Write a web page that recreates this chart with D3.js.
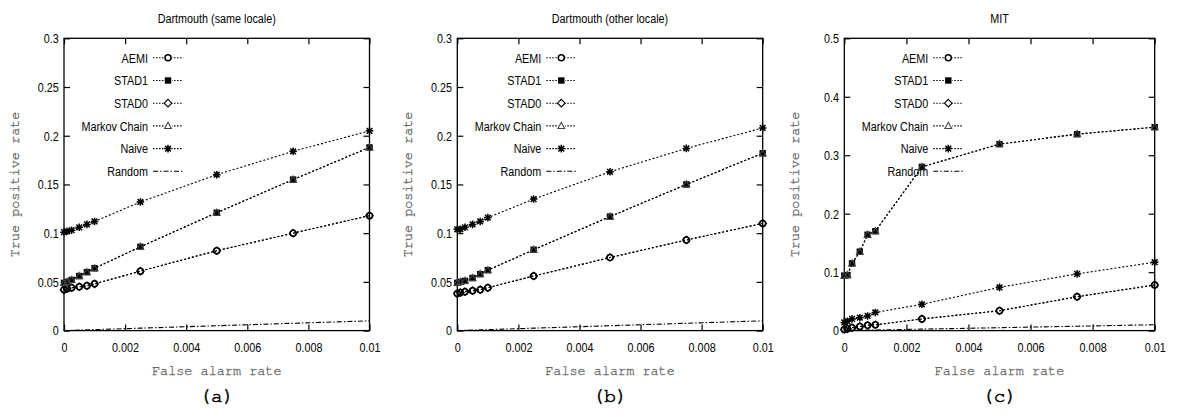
<!DOCTYPE html>
<html><head><meta charset="utf-8">
<script src="https://cdn.jsdelivr.net/npm/d3@7"></script>
<style>
html,body{margin:0;padding:0;background:#fff;}
svg{display:block;}
.nar{font-family:"Liberation Sans",Arial,sans-serif;}
.mono{font-family:"Nimbus Mono PS","FreeMono","Courier New","Liberation Mono",monospace;}
</style></head>
<body>
<svg id="chart" width="1178" height="414"></svg>
<script>
// ---- data ----
const xVals = [0, 0.0001, 0.00025, 0.0005, 0.00075, 0.001, 0.0025, 0.005, 0.0075, 0.01];
const seriesNames = ["AEMI", "STAD1", "STAD0", "Markov Chain", "Naive", "Random"];
const panelTitles = ["Dartmouth (same locale)", "Dartmouth (other locale)", "MIT"];
const panelLabels = ["(a)", "(b)", "(c)"];
const xTicks = [0, 0.002, 0.004, 0.006, 0.008, 0.01];
const xTickLabels = ["0", "0.002", "0.004", "0.006", "0.008", "0.01"];
const yTicksAB = [0, 0.05, 0.1, 0.15, 0.2, 0.25, 0.3];
const yTickLabelsAB = ["0", "0.05", "0.1", "0.15", "0.2", "0.25", "0.3"];
const yTicksC = [0, 0.1, 0.2, 0.3, 0.4, 0.5];
const yTickLabelsC = ["0", "0.1", "0.2", "0.3", "0.4", "0.5"];

// panel (a)
const aemiA   = [0.042, 0.043, 0.044, 0.045, 0.046, 0.048, 0.061, 0.082, 0.100, 0.118];
const stad1A  = [0.049, 0.050, 0.052, 0.056, 0.060, 0.064, 0.086, 0.121, 0.155, 0.188];
const stad0A  = [0.042, 0.043, 0.044, 0.045, 0.046, 0.048, 0.061, 0.082, 0.100, 0.118];
const markovA = [0.049, 0.050, 0.052, 0.056, 0.060, 0.064, 0.086, 0.121, 0.155, 0.188];
const naiveA  = [0.101, 0.102, 0.103, 0.106, 0.109, 0.112, 0.132, 0.160, 0.184, 0.205];
const randomA = [0, 0.0001, 0.00025, 0.0005, 0.00075, 0.001, 0.0025, 0.005, 0.0075, 0.01];
// panel (b)
const aemiB   = [0.038, 0.039, 0.040, 0.041, 0.042, 0.044, 0.056, 0.075, 0.093, 0.110];
const stad1B  = [0.049, 0.050, 0.051, 0.054, 0.058, 0.062, 0.083, 0.117, 0.150, 0.182];
const stad0B  = [0.038, 0.039, 0.040, 0.041, 0.042, 0.044, 0.056, 0.075, 0.093, 0.110];
const markovB = [0.049, 0.050, 0.051, 0.054, 0.058, 0.062, 0.083, 0.117, 0.150, 0.182];
const naiveB  = [0.104, 0.104, 0.106, 0.109, 0.112, 0.116, 0.135, 0.163, 0.187, 0.208];
const randomB = [0, 0.0001, 0.00025, 0.0005, 0.00075, 0.001, 0.0025, 0.005, 0.0075, 0.01];
// panel (c)
const aemiC   = [0.002, 0.003, 0.005, 0.007, 0.009, 0.010, 0.020, 0.034, 0.058, 0.078];
const stad1C  = [0.094, 0.095, 0.115, 0.135, 0.164, 0.170, 0.280, 0.319, 0.336, 0.348];
const stad0C  = [0.002, 0.003, 0.005, 0.007, 0.009, 0.010, 0.020, 0.034, 0.058, 0.078];
const markovC = [0.094, 0.095, 0.115, 0.135, 0.164, 0.170, 0.280, 0.319, 0.336, 0.348];
const naiveC  = [0.014, 0.016, 0.020, 0.022, 0.025, 0.031, 0.045, 0.074, 0.097, 0.117];
const randomC = [0, 0.0001, 0.00025, 0.0005, 0.00075, 0.001, 0.0025, 0.005, 0.0075, 0.01];

// ---- drawing ----
const svg = d3.select("#chart");
const panels = [
  {left: 64, right: 369.5, yMax: 0.3, yT: yTicksAB, yL: yTickLabelsAB, data: [aemiA, stad1A, stad0A, markovA, naiveA, randomA]},
  {left: 457.3, right: 762.7, yMax: 0.3, yT: yTicksAB, yL: yTickLabelsAB, data: [aemiB, stad1B, stad0B, markovB, naiveB, randomB]},
  {left: 844.3, right: 1154.7, yMax: 0.5, yT: yTicksC, yL: yTickLabelsC, data: [aemiC, stad1C, stad0C, markovC, naiveC, randomC]}
];
const plotTop = 38.3, plotBottom = 330.6;
const SX = 0.8; // horizontal condensation of the narrow sans text
const markerKinds = ["circle", "square", "diamond", "triangle", "star", "none"];

function narText(g, x, y, str, size, anchor) {
  return g.append("text").attr("class", "nar")
    .attr("transform", `translate(${x},${y}) scale(${SX},1)`)
    .attr("text-anchor", anchor).attr("font-size", size).attr("fill", "#000").text(str);
}

function drawMarker(g, kind, cx, cy) {
  if (kind === "circle") {
    g.append("circle").attr("cx", cx).attr("cy", cy).attr("r", 3)
      .attr("fill", "none").attr("stroke", "#000").attr("stroke-width", 1.5);
  } else if (kind === "square") {
    g.append("rect").attr("x", cx - 3.2).attr("y", cy - 3.2).attr("width", 6.4).attr("height", 6.4)
      .attr("fill", "#000");
  } else if (kind === "diamond") {
    g.append("path").attr("d", `M${cx},${cy-3.8}L${cx+3.8},${cy}L${cx},${cy+3.8}L${cx-3.8},${cy}Z`)
      .attr("fill", "none").attr("stroke", "#000").attr("stroke-width", 1.1);
  } else if (kind === "triangle") {
    g.append("path").attr("d", `M${cx},${cy-3.6}L${cx+3.4},${cy+2.6}L${cx-3.4},${cy+2.6}Z`)
      .attr("fill", "none").attr("stroke", "#444").attr("stroke-width", 1.1);
  } else if (kind === "star") {
    const s = 3.8, d = s * 0.75;
    g.append("path").attr("d",
      `M${cx-s},${cy}L${cx+s},${cy}M${cx},${cy-s}L${cx},${cy+s}M${cx-d},${cy-d}L${cx+d},${cy+d}M${cx-d},${cy+d}L${cx+d},${cy-d}`)
      .attr("stroke", "#000").attr("stroke-width", 1.5);
  }
}

panels.forEach((p, pi) => {
  const x = d3.scaleLinear().domain([0, 0.01]).range([p.left, p.right]);
  const y = d3.scaleLinear().domain([0, p.yMax]).range([plotBottom, plotTop]);
  const g = svg.append("g");

  g.append("rect").attr("x", p.left).attr("y", plotTop).attr("width", p.right - p.left).attr("height", plotBottom - plotTop)
    .attr("fill", "none").attr("stroke", "#000").attr("stroke-width", 1.3);

  const xAxisB = d3.axisBottom(x).tickValues(xTicks).tickSize(-6).tickPadding(12)
    .tickFormat((d, i) => xTickLabels[i]);
  const gxb = g.append("g").attr("transform", `translate(0,${plotBottom})`).call(xAxisB);
  const xAxisT = d3.axisTop(x).tickValues(xTicks).tickSize(-6).tickFormat("");
  const gxt = g.append("g").attr("transform", `translate(0,${plotTop})`).call(xAxisT);
  const yAxisL = d3.axisLeft(y).tickValues(p.yT).tickSize(-6).tickPadding(6.5)
    .tickFormat((d, i) => p.yL[i]);
  const gyl = g.append("g").attr("transform", `translate(${p.left},0)`).call(yAxisL);
  const yAxisR = d3.axisRight(y).tickValues(p.yT).tickSize(-6).tickFormat("");
  const gyr = g.append("g").attr("transform", `translate(${p.right},0)`).call(yAxisR);
  [gxb, gxt, gyl, gyr].forEach(a => {
    a.select(".domain").remove();
    a.selectAll(".tick line").attr("stroke", "#000").attr("stroke-width", 1.2);
    a.selectAll("text").attr("class", "nar").attr("font-size", 13.5).attr("fill", "#000")
      .attr("transform", `scale(${SX},1)`);
  });

  narText(g, (p.left + p.right) / 2, 23, panelTitles[pi], 13.5, "middle");
  g.append("text").attr("class", "mono").attr("x", (p.left + p.right) / 2).attr("y", 374.5)
    .attr("text-anchor", "middle").attr("font-size", 13.5).attr("fill", "#666")
    .attr("stroke", "#666").attr("stroke-width", 0.3).text("False alarm rate");
  g.append("text").attr("class", "mono")
    .attr("transform", `translate(${p.left - 45.5},${(plotTop + plotBottom) / 2}) rotate(-90)`)
    .attr("text-anchor", "middle").attr("font-size", 13.5).attr("fill", "#666")
    .attr("stroke", "#666").attr("stroke-width", 0.3).text("True positive rate");
  g.append("text").attr("class", "mono").attr("x", (p.left + p.right) / 2).attr("y", 401.5)
    .attr("text-anchor", "middle").attr("font-size", 19.5).attr("fill", "#000")
    .attr("stroke", "#000").attr("stroke-width", 0.55).text(panelLabels[pi]);

  const line = d3.line().x(d => x(d[0])).y(d => y(d[1]));
  p.data.forEach((vals, si) => {
    const pts = xVals.map((xv, i) => [xv, vals[i]]);
    const isRandom = markerKinds[si] === "none";
    g.append("path").datum(pts).attr("d", line).attr("fill", "none")
      .attr("stroke", "#000").attr("stroke-width", 1.1)
      .attr("stroke-dasharray", isRandom ? "5,2,1.5,2" : "2,2");
  });
  p.data.forEach((vals, si) => {
    if (markerKinds[si] === "none") return;
    const mg = g.append("g");
    xVals.forEach((xv, i) => drawMarker(mg, markerKinds[si], x(xv), y(vals[i])));
  });

  const lx = p.left + 84, mx = p.left + 104;
  seriesNames.forEach((name, si) => {
    const ly = plotTop + 19.5 + si * 22.7;
    narText(g, lx, ly, name, 13.5, "end").attr("dy", "0.35em");
    const isRandom = markerKinds[si] === "none";
    g.append("line").attr("x1", mx - 15).attr("x2", mx + 15).attr("y1", ly).attr("y2", ly)
      .attr("stroke", "#000").attr("stroke-width", 1.1)
      .attr("stroke-dasharray", isRandom ? "5,2,1.5,2" : "1.5,1.5");
    if (!isRandom) {
      g.append("rect").attr("x", mx - 4).attr("y", ly - 4).attr("width", 8).attr("height", 8).attr("fill", "#fff");
      drawMarker(g, markerKinds[si], mx, ly);
    }
  });
});
</script>
</body></html>
